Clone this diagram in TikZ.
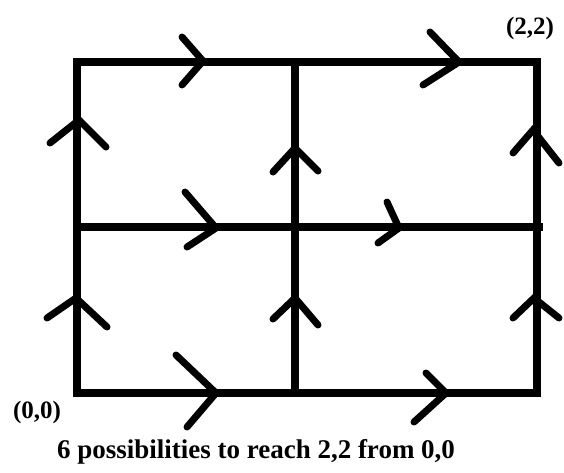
\documentclass[tikz,border=0pt]{standalone}
\usepackage{fontspec}
\setmainfont{Liberation Serif}
\begin{document}
\begin{tikzpicture}[x=1pt,y=-1pt,
  grid/.style={line width=8pt},
  chev/.style={line width=7pt,line cap=round,line join=miter},
  lbl/.style={font=\bfseries\fontsize{25}{27}\selectfont,inner sep=0pt},
  caplbl/.style={font=\bfseries\fontsize{27}{29}\selectfont,inner sep=0pt}]
\useasboundingbox (0,0) rectangle (564,472);
\fill[white] (0,0) rectangle (564,472);
% grid points
\coordinate (a00) at (77,393);
\coordinate (a10) at (295,393);
\coordinate (a20) at (537,393);
\coordinate (a01) at (77,227);
\coordinate (a11) at (295,227);
\coordinate (a21) at (543,227);
\coordinate (a02) at (77,62);
\coordinate (a12) at (295,62);
\coordinate (a22) at (537,62);
% grid lines
\draw[grid] (a00) -- (a20) -- (a22) -- (a02) -- cycle;
\draw[grid] (a01) -- (a21);
\draw[grid] (a12) -- (a10);
% chevrons
\draw[chev] (182,37) -- (203,61) -- (182,85);
\draw[chev] (430,32) -- (459,62) -- (423,85);
\draw[chev] (50,143) -- (79,120) -- (106,147);
\draw[chev] (273,172) -- (295,148) -- (318,171);
\draw[chev] (513,153) -- (533,130) -- (559,163);
\draw[chev] (185,192) -- (216,228) -- (187,247);
\draw[chev] (387,202) -- (399,228) -- (378,243);
\draw[chev] (47,318) -- (76,298) -- (107,327);
\draw[chev] (273,319) -- (295,298) -- (318,325);
\draw[chev] (513,318) -- (534,298) -- (559,318);
\draw[chev] (176,355) -- (216,393) -- (187,427);
\draw[chev] (426,373) -- (446,393) -- (414,422);
% labels
\node[lbl] (end) at (530,28) {(2,2)};
\node[lbl] (start) at (37,412) {(0,0)};
\node[caplbl] (cap) at (256,452) {6 possibilities to reach 2,2 from 0,0};
\end{tikzpicture}
\end{document}
